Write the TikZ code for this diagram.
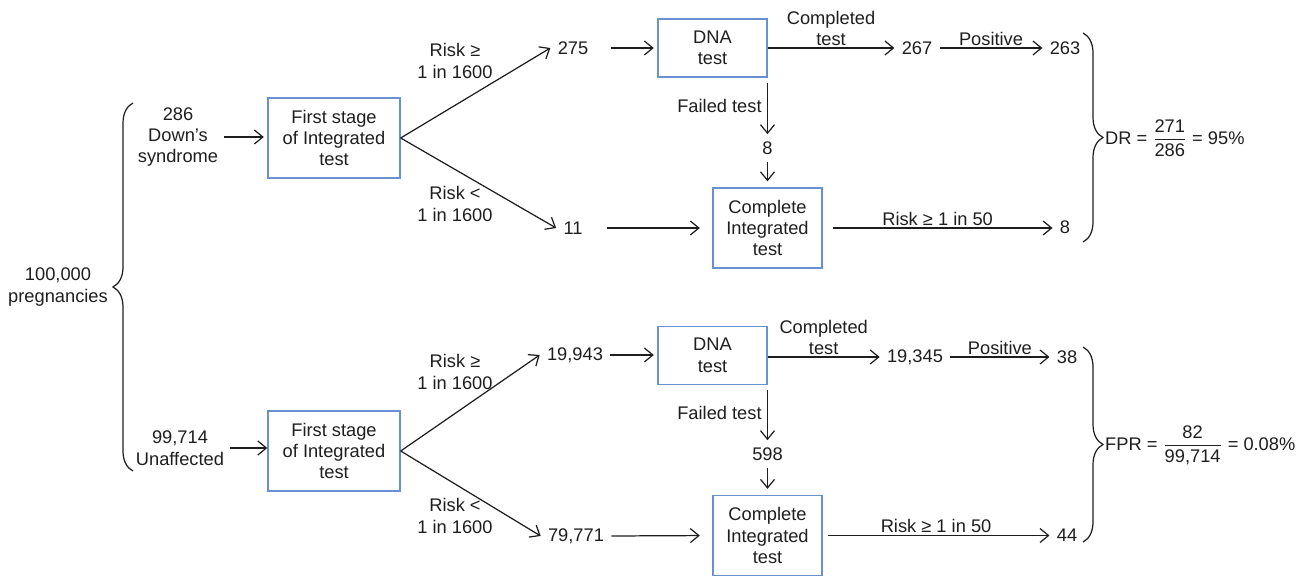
\documentclass[tikz,border=0pt]{standalone}
\usepackage{fontspec}
\setmainfont{Liberation Sans}
\usetikzlibrary{arrows.meta,decorations.pathreplacing}
\definecolor{boxblue}{RGB}{105,145,210}
\definecolor{ink}{RGB}{30,30,30}

\begin{document}
\begin{tikzpicture}[x=0.02cm,y=-0.02cm,font=\fontsize{10.4}{12.2}\selectfont,color=ink]
    \tikzstyle{stage}=[draw=boxblue,line width=0.8pt,minimum width=2.64cm,minimum height=1.6cm,align=center,inner sep=0pt]
    \tikzstyle{dna}=[stage,minimum width=2.18cm,minimum height=1.16cm]
    \tikzstyle{comp}=[stage,minimum width=2.18cm,minimum height=1.6cm]
    \tikzstyle{num}=[inner sep=4pt]
    \tikzstyle{lbl}=[align=center,inner sep=1pt]
    \tikzstyle{arr}=[-{Straight Barb[length=1.7mm,width=2.8mm]},line width=0.7pt]
    \tikzstyle{curly}=[decorate,decoration={brace,amplitude=0.4cm},line width=0.7pt]
    \useasboundingbox (0,0) rectangle (1297,577);

    \node[align=center] (allPreg) at (58,287) {100,000\\pregnancies};
    \coordinate (allTop) at (133,103);
    \coordinate (allBot) at (133,471);
    \draw[curly] (allBot) -- (allTop);

    \node[align=center] (dsIn) at (178,137) {286\\Down’s\\syndrome};
    \node[stage] (dsFirst) at (334,138) {First stage\\of Integrated\\test};
    \node[lbl] (dsHiLbl) at (455,61) {Risk ≥\\1 in 1600};
    \node[lbl] (dsLoLbl) at (455,204) {Risk <\\1 in 1600};
    \node[num] (dsHi) at (573,48) {275};
    \node[num] (dsLo) at (573,228) {11};
    \node[dna] (dsDna) at (712.5,48) {DNA\\test};
    \node[num] (dsDone) at (917,48) {267};
    \node[num] (dsPos) at (1065,48) {263};
    \node[num] (dsFail) at (767.5,148) {8};
    \node[comp] (dsComp) at (767.5,228) {Complete\\Integrated\\test};
    \node[num] (dsRisk) at (1065,227) {8};
    \coordinate (dsTop) at (1083,33);
    \coordinate (dsBot) at (1083,242);
    \node[anchor=west] (dsRate) at (1099,138) {DR = $\displaystyle\frac{\mbox{271}}{\mbox{286}}$ = 95\%};

    \draw[arr,shorten >=2pt] (dsIn.east) -- (dsIn.east -| dsFirst.west);
    \draw[arr] (dsFirst.east) -- (dsHi.west);
    \draw[arr] (dsFirst.east) -- (dsLo.west);
    \draw[arr,shorten <=0.3cm,shorten >=2pt] (dsHi.east) -- (dsDna.west);
    \draw[arr] (dsDna.east) -- node[lbl,above] (dsDoneLbl) {Completed\\test} (dsDone.west);
    \draw[arr] (dsDone.east) -- node[lbl,above] (dsPosLbl) {Positive} (dsPos.west);
    \draw[arr,shorten <=1mm] (dsFail |- dsDna.south) -- node[lbl,left=2pt] (dsFailLbl) {Failed test} (dsFail.north);
    \draw[arr,shorten >=0.12cm] (dsFail.south) -- (dsComp.north);
    \draw[arr,shorten <=0.35cm,shorten >=0.25cm] (dsLo.east) -- (dsComp.west);
    \draw[arr,shorten <=0.2cm] (dsComp.east) -- node[lbl,above] (dsRiskLbl) {Risk ≥ 1 in 50} (dsComp.east -| dsRisk.west);
    \draw[curly] (dsTop) -- (dsBot);

    \node[align=center] (unIn) at (180,448) {99,714\\Unaffected};
    \node[stage] (unFirst) at (334,451) {First stage\\of Integrated\\test};
    \node[lbl] (unHiLbl) at (455,372) {Risk ≥\\1 in 1600};
    \node[lbl] (unLoLbl) at (455,516) {Risk <\\1 in 1600};
    \node[num] (unHi) at (575,355) {19,943};
    \node[num] (unLo) at (576,536) {79,771};
    \node[dna] (unDna) at (712.5,355.5) {DNA\\test};
    \node[num] (unDone) at (915,357) {19,345};
    \node[num] (unPos) at (1067,357) {38};
    \node[num] (unFail) at (767.5,454) {598};
    \node[comp] (unComp) at (767.5,535.5) {Complete\\Integrated\\test};
    \node[num] (unRisk) at (1067,535) {44};
    \coordinate (unTop) at (1083,347);
    \coordinate (unBot) at (1083,542);
    \node[anchor=west] (unRate) at (1099,445) {FPR = $\displaystyle\frac{\mbox{82}}{\mbox{99,714}}$ = 0.08\%};

    \draw[arr] (unIn.east) -- (unIn.east -| unFirst.west);
    \draw[arr] (unFirst.east) -- (unHi.west);
    \draw[arr] (unFirst.east) -- (unLo.west);
    \draw[arr,shorten >=2pt] (unHi.east) -- (unHi.east -| unDna.west);
    \draw[arr] (unDna.east |- unDone.west) -- node[lbl,above] (unDoneLbl) {Completed\\test} (unDone.west);
    \draw[arr] (unDone.east) -- node[lbl,above] (unPosLbl) {Positive} (unPos.west);
    \draw[arr,shorten <=1mm] (unFail |- unDna.south) -- node[lbl,left=2pt] (unFailLbl) {Failed test} (unFail.north);
    \draw[arr,shorten >=0.12cm] (unFail.south) -- (unComp.north);
    \draw[arr,shorten >=0.25cm] (unLo.east) -- (unComp.west);
    \draw[arr,shorten <=0.1cm] (unComp.east) -- node[lbl,above] (unRiskLbl) {Risk ≥ 1 in 50} (unComp.east -| unRisk.west);
    \draw[curly] (unTop) -- (unBot);
\end{tikzpicture}
\end{document}
